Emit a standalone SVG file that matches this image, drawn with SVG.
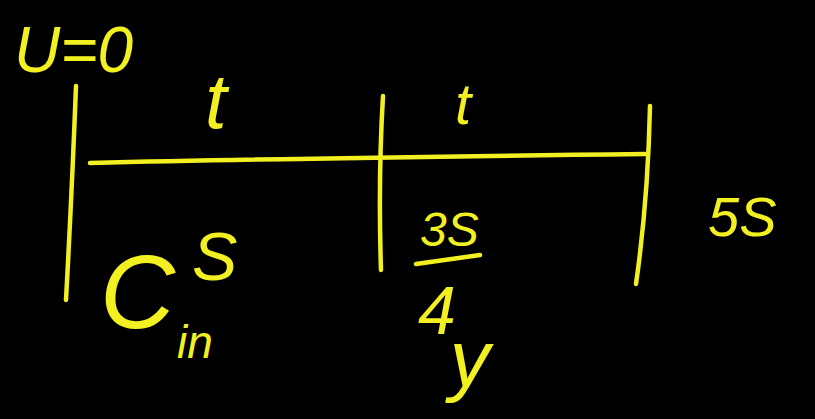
<svg xmlns="http://www.w3.org/2000/svg" width="815" height="419" viewBox="0 0 815 419">
<style>
.ink{fill:none;stroke:#f2f020;stroke-width:4.5;stroke-linecap:round;stroke-linejoin:round}
.t{fill:#f2f020;font-family:"Liberation Sans",sans-serif;font-style:italic}
</style>
<rect width="815" height="419" fill="#000"/>
<g id="connectors">
<path class="ink" d="M76,86 Q72,190 66,300"/>
<path class="ink" d="M90,163 Q300,158 645,154"/>
<path class="ink" d="M383,96 Q378,180 381,270"/>
<path class="ink" d="M650,106 Q648,200 636,284"/>
<path class="ink" d="M416,264 L480,255"/>
</g>
<g id="u0"><text class="t" x="14" y="72" font-size="64">U=0</text></g>
<g id="t1"><text class="t" x="205" y="128" font-size="78">t</text></g>
<g id="t2"><text class="t" x="455" y="124" font-size="58">t</text></g>
<g id="s"><text class="t" x="192" y="280" font-size="68">S</text></g>
<g id="cin"><text class="t" x="100" y="328" font-size="104">C<tspan font-size="46" dx="2" dy="30">in</tspan></text></g>
<g id="frac"><text class="t" x="420" y="246" font-size="48">3S</text><text class="t" x="418" y="334" font-size="68">4<tspan font-size="80" dx="-6" dy="52">y</tspan></text></g>
<g id="s5"><text class="t" x="708" y="236" font-size="56">5S</text></g>
</svg>
